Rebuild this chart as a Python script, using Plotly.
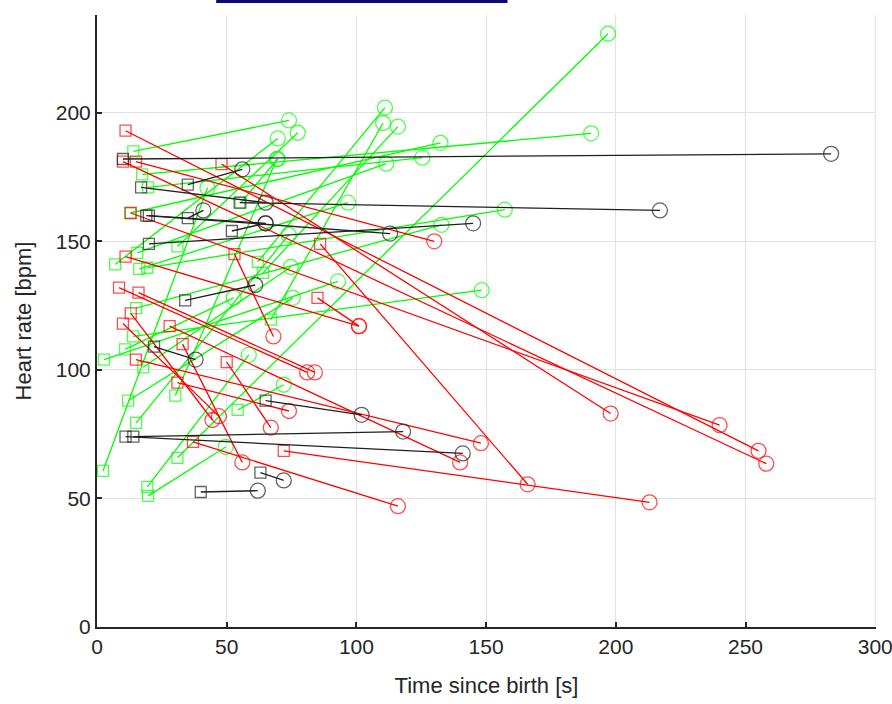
import plotly.graph_objects as go

# ---- Data: each segment goes from (t0, hr0) [square] to (t1, hr1) [circle] ----
green_t0 = [2.3, 31, 14, 17.4, 19.7, 12.8, 55.4, 15.5, 31, 7, 16.3, 19.4, 62, 15.1, 13.9, 2.7, 10.8, 17.8, 30.2, 12, 15.1, 54.2, 19.4, 19.7, 67, 64]
green_hr0 = [60.7, 65.8, 185, 176, 171, 161, 165, 145.5, 148, 141, 139.3, 139.7, 142, 124, 113, 104, 108, 101, 90, 88, 79.4, 84.4, 54.5, 51, 119.5, 137.7]
green_t1 = [42.6, 197, 74, 190.5, 125.4, 132.4, 69.7, 111.5, 77.4, 69.7, 96.8, 157.2, 111, 132.8, 148.3, 92.9, 52.7, 74.7, 69.3, 75.5, 73.9, 72, 58.5, 49.6, 110.3, 116]
green_hr1 = [170.8, 230.7, 197, 192, 182.5, 188.3, 182, 180.2, 192.2, 190, 165, 162.3, 202, 156.4, 131, 134.4, 128, 140, 182, 128, 152.5, 94.2, 105.8, 70, 196, 194.6]

red_t0 = [11, 10, 15, 48, 13, 86, 72, 37, 85, 53, 8.5, 16, 13, 10, 33, 50, 28, 15, 31, 11]
red_hr0 = [193, 181, 181, 180, 161, 149, 68.5, 72, 128, 145, 132, 130, 122, 118, 110, 103, 117, 104, 95, 144]
red_t1 = [255, 258, 130, 198, 240, 166, 213, 116, 101, 68, 81, 84, 44.5, 47, 56, 67, 140, 148, 74, 101]
red_hr1 = [68.5, 63.5, 150, 83, 78.5, 55.5, 48.5, 47, 117, 113, 99, 99, 80.5, 82, 64, 77.5, 64, 71.5, 84, 117]

black_t0 = [10, 35, 17, 55, 35, 19, 20, 52, 20, 34, 22, 65, 11, 14, 63, 40]
black_hr0 = [182, 172, 171, 165, 159, 160, 160, 154, 149, 127, 109, 88, 74, 74, 60, 52.5]
black_t1 = [283, 56, 65, 217, 41, 113, 65, 65, 145, 61, 38, 102, 141, 118, 72, 62]
black_hr1 = [184, 178, 165, 162, 162, 153, 157, 157, 157, 133, 104, 82.5, 67.5, 76, 57, 53]

x_ticks = [0, 50, 100, 150, 200, 250, 300]
y_ticks = [0, 50, 100, 150, 200]


def segments(t0, h0, t1, h1, color):
    xs, ys, sym, size = [], [], [], []
    for a, b, c, d in zip(t0, h0, t1, h1):
        xs += [a, c, None]
        ys += [b, d, None]
        sym += ["square-open", "circle-open", "circle-open"]
        size += [11, 15, 15]
    return go.Scatter(
        x=xs, y=ys, mode="lines+markers",
        line=dict(color=color, width=1.3),
        marker=dict(symbol=sym, size=size, color=color, line=dict(color=color, width=1.3)),
        connectgaps=False, showlegend=False, hoverinfo="skip",
    )


fig = go.Figure()
fig.add_trace(segments(green_t0, green_hr0, green_t1, green_hr1, "#00ff00"))
fig.add_trace(segments(red_t0, red_hr0, red_t1, red_hr1, "#ff0000"))
fig.add_trace(segments(black_t0, black_hr0, black_t1, black_hr1, "#1f1f1f"))

font_family = "Liberation Sans, Arial, sans-serif"
axis_common = dict(
    showgrid=True, gridcolor="#e2e2e2", gridwidth=1,
    showline=True, linecolor="#262626", linewidth=2,
    ticks="inside", ticklen=5, tickcolor="#262626", tickwidth=1.5,
    tickfont=dict(size=21, color="#262626", family=font_family),
    zeroline=False, mirror=False, automargin=False,
    ticklabeloverflow="allow",
)

fig.update_layout(
    width=892, height=704,
    margin=dict(l=97, r=16, t=15, b=77),
    plot_bgcolor="white", paper_bgcolor="white",
    font=dict(family=font_family, color="#262626"),
    xaxis=dict(range=[0, 300.3], tickvals=x_ticks,
               title=dict(text="Time since birth [s]", font=dict(size=22, color="#262626"), standoff=20),
               **axis_common),
    yaxis=dict(range=[0, 238], tickvals=y_ticks,
               title=dict(text="Heart rate [bpm]", font=dict(size=22, color="#262626"), standoff=18),
               **axis_common),
    shapes=[
        dict(type="line", xref="paper", yref="paper",
             x0=0.153, x1=0.527, y0=1.022, y1=1.022,
             line=dict(color="#0a0a78", width=3)),
        dict(type="line", xref="x", yref="paper", x0=300, x1=300, y0=0, y1=1,
             line=dict(color="#e2e2e2", width=1), layer="below"),
    ],
)

fig.write_html("out.html", config={"displayModeBar": False},
               post_script="document.body.style.margin='0px';")
